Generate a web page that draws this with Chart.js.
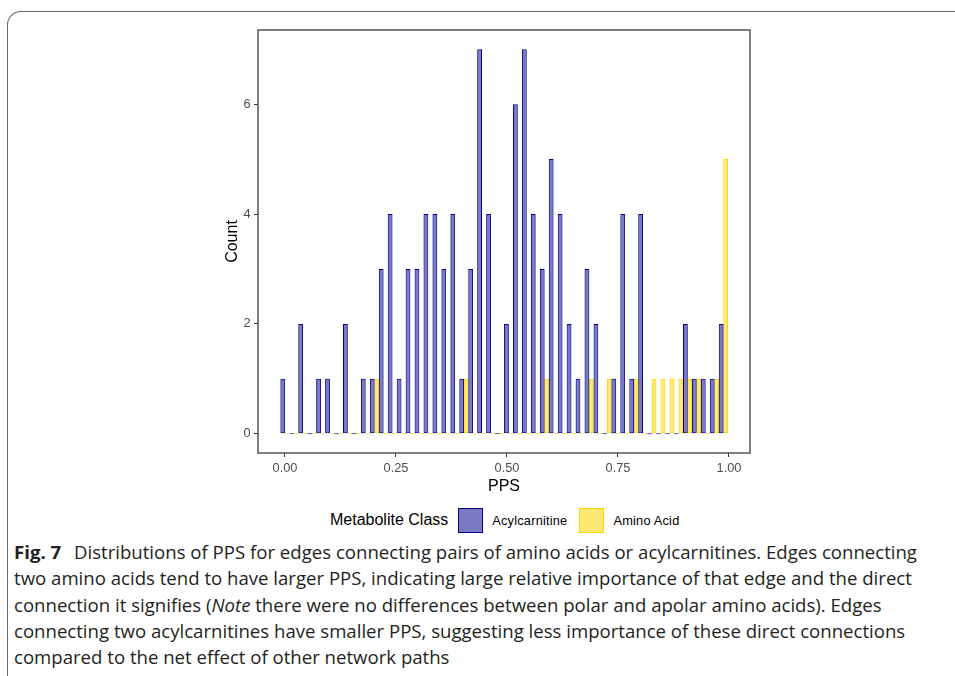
<!DOCTYPE html>
<html>
<head>
<meta charset="utf-8">
<script src="https://cdn.jsdelivr.net/npm/chart.js@4/dist/chart.umd.min.js"></script>
<style>
  html, body { margin: 0; padding: 0; background: #fff; }
  body { width: 955px; height: 676px; position: relative; overflow: hidden; font-family: "Liberation Sans", Arial, sans-serif; }
  #frame { position: absolute; left: 7px; top: 11px; width: 1000px; height: 700px;
           border-left: 1.3px solid #666; border-top: 1.3px solid #666; border-top-left-radius: 14px; }
  #wrap { position: absolute; left: 0; top: 0; width: 955px; height: 500px; }
  #legend { position: absolute; top: 507px; left: 330px; height: 26px; display: flex; align-items: center; white-space: nowrap; }
  #legend .title { font-size: 16px; color: #000; margin-right: 10px; }
  #legend .key { width: 25px; height: 25px; box-sizing: border-box; margin-right: 9px; }
  #legend .lab { font-size: 12.8px; color: #000; margin-right: 12px; letter-spacing: 0.2px; }
  #caption { position: absolute; left: 14px; top: 539px; font-family: "Open Sans", "Noto Sans", sans-serif;
             font-size: 18.6px; line-height: 26.3px; color: #231f20; white-space: nowrap; }
  #caption b { font-weight: 700; margin-right: 8px; }
</style>
</head>
<body>
<div id="frame"></div>
<div id="wrap"><canvas id="c" width="955" height="500"></canvas></div>
<div id="legend"></div>
<div id="caption">
<b>Fig. 7</b> Distributions of PPS for edges connecting pairs of amino acids or acylcarnitines. Edges connecting<br>
two amino acids tend to have larger PPS, indicating large relative importance of that edge and the direct<br>
connection it signifies (<i>Note</i> there were no differences between polar and apolar amino acids). Edges<br>
connecting two acylcarnitines have smaller PPS, suggesting less importance of these direct connections<br>
compared to the net effect of other network paths
</div>
<script>
// ---- data ----
const binCenters = [0.0000,0.0202,0.0403,0.0605,0.0806,0.1008,0.1209,0.1411,0.1612,0.1814,
                    0.2015,0.2217,0.2418,0.2620,0.2821,0.3023,0.3224,0.3426,0.3627,0.3829,
                    0.4030,0.4232,0.4433,0.4635,0.4836,0.5038,0.5239,0.5441,0.5642,0.5844,
                    0.6045,0.6247,0.6448,0.6650,0.6851,0.7053,0.7254,0.7456,0.7657,0.7859,
                    0.8060,0.8262,0.8463,0.8665,0.8866,0.9068,0.9269,0.9471,0.9672,0.9874];
const acylcarnitine = [1,0,2,0,1,1,0,2,0,1,
                       1,3,4,1,3,3,4,4,3,4,
                       1,3,7,4,0,2,6,7,4,3,
                       5,4,2,1,3,2,0,1,4,1,
                       4,0,0,0,0,2,1,1,1,2];
const aminoAcid =     [0,0,0,0,0,0,0,0,0,0,
                       1,0,0,0,0,0,0,0,0,0,
                       1,0,0,0,0,0,0,0,0,1,
                       0,0,0,0,1,0,1,0,0,1,
                       0,1,1,1,1,1,1,0,1,5];
const seriesNames = ["Acylcarnitine", "Amino Acid"];
const xTickValues = [0, 0.25, 0.5, 0.75, 1.0];
const yTickValues = [0, 2, 4, 6];
const legendTitle = "Metabolite Class";
const xTitle = "PPS";
const yTitle = "Count";

const fills = ["rgba(0,0,139,0.52)", "rgba(255,215,0,0.55)"];
const strokes = ["#00008B", "#FFD700"];

const toPts = arr => arr.map((v, i) => ({ x: binCenters[i], y: v }));

const panelBorder = {
  id: 'panelBorder',
  afterDatasetsDraw(chart) {
    const { ctx, chartArea: a } = chart;
    ctx.save();
    ctx.strokeStyle = '#555';
    ctx.lineWidth = 1.5;
    ctx.strokeRect(a.left, a.top, a.right - a.left, a.bottom - a.top);
    ctx.restore();
  }
};

const chart = new Chart(document.getElementById('c'), {
  type: 'bar',
  data: {
    datasets: [
      { label: seriesNames[0], data: toPts(acylcarnitine), backgroundColor: fills[0], borderColor: strokes[0] },
      { label: seriesNames[1], data: toPts(aminoAcid), backgroundColor: fills[1], borderColor: strokes[1] }
    ]
  },
  options: {
    responsive: false,
    animation: false,
    devicePixelRatio: 1,
    layout: { padding: { left: 218, right: 205, top: 30, bottom: 2 } },
    datasets: { bar: { borderWidth: 1, borderSkipped: false, minBarLength: 1, categoryPercentage: 1, barPercentage: 1.08, grouped: true } },
    plugins: { legend: { display: false }, tooltip: { enabled: false } },
    scales: {
      x: {
        type: 'linear', min: -0.0608, max: 1.0473, offset: false,
        afterBuildTicks: s => { s.ticks = xTickValues.map(v => ({ value: v })); },
        afterFit: s => { s.height = 45; },
        ticks: { callback: v => Number(v).toFixed(2), color: '#4d4d4d', padding: 3.5, maxRotation: 0, autoSkip: false,
                 font: { family: 'Liberation Sans, Arial, sans-serif', size: 12.8 } },
        grid: { display: true, offset: false, drawOnChartArea: false, drawTicks: true, tickLength: 4, color: '#333', lineWidth: 1 },
        border: { display: false },
        title: { display: true, text: xTitle, color: '#000', padding: { top: 0, bottom: 1.7 },
                 font: { family: 'Liberation Sans, Arial, sans-serif', size: 16 } }
      },
      y: {
        type: 'linear', min: -0.35, max: 7.35,
        afterBuildTicks: s => { s.ticks = yTickValues.map(v => ({ value: v })); },
        afterFit: s => { s.width = 40; },
        ticks: { color: '#4d4d4d', padding: 3.5,
                 font: { family: 'Liberation Sans, Arial, sans-serif', size: 12.8 } },
        grid: { display: true, offset: false, drawOnChartArea: false, drawTicks: true, tickLength: 4, color: '#333', lineWidth: 1 },
        border: { display: false },
        title: { display: true, text: yTitle, color: '#000', padding: { top: 4.6, bottom: 0 },
                 font: { family: 'Liberation Sans, Arial, sans-serif', size: 16 } }
      }
    }
  },
  plugins: [panelBorder]
});

// HTML legend built from the chart's datasets
const lg = document.getElementById('legend');
const t = document.createElement('span'); t.className = 'title'; t.textContent = legendTitle; lg.appendChild(t);
chart.data.datasets.forEach(ds => {
  const k = document.createElement('span'); k.className = 'key';
  k.style.background = ds.backgroundColor; k.style.border = '1.3px solid ' + ds.borderColor;
  const l = document.createElement('span'); l.className = 'lab'; l.textContent = ds.label;
  lg.appendChild(k); lg.appendChild(l);
});
</script>
</body>
</html>
